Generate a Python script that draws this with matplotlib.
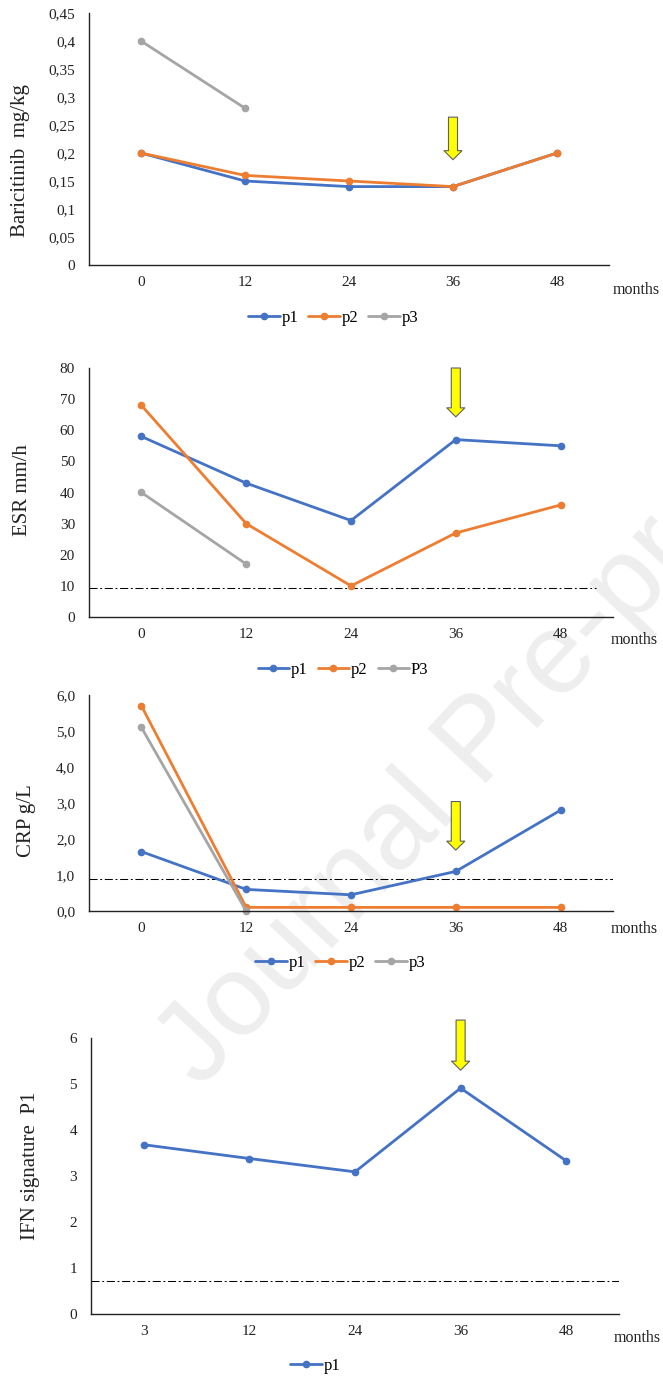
import numpy as np
import matplotlib
matplotlib.use("Agg")
import matplotlib.pyplot as plt
from matplotlib.ticker import FuncFormatter

# ---- data ----
months = ["0", "12", "24", "36", "48"]
months_ifn = ["3", "12", "24", "36", "48"]

bari_p1 = [0.20, 0.15, 0.14, 0.14, 0.20]
bari_p2 = [0.20, 0.16, 0.15, 0.14, 0.20]
bari_p3 = [0.40, 0.28]

esr_p1 = [58, 43, 31, 57, 55]
esr_p2 = [68, 30, 10, 27, 36]
esr_p3 = [40, 17]
esr_ref = 9.3

crp_p1 = [1.65, 0.6, 0.45, 1.1, 2.8]
crp_p2 = [5.7, 0.1, 0.1, 0.1, 0.1]
crp_p3 = [5.1, 0.0]
crp_ref = 0.9

ifn_p1 = [3.68, 3.38, 3.09, 4.91, 3.33]
ifn_ref = 0.71

# arrow (start of treatment change) at 36 months: top / tip values
arrow_bari = (0.264, 0.188)
arrow_esr = (80, 64.3)
arrow_crp = (3.04, 1.69)
arrow_ifn = (6.39, 5.30)

BLUE = "#4472C4"
ORANGE = "#ED7D31"
GRAY = "#A5A5A5"

plt.rcParams["font.family"] = ["Liberation Serif", "DejaVu Serif"]

W, H = 663, 1380
fig = plt.figure(figsize=(W / 100, H / 100), dpi=100)


def px_axes(l, t, r, b):
    return fig.add_axes([l / W, 1 - b / H, (r - l) / W, (b - t) / H])


def style_axes(ax, labels, ylim, yticks, fmt):
    ax.set_facecolor("none")
    ax.set_xlim(-0.5, 4.5)
    ax.set_ylim(*ylim)
    ax.set_xticks(range(len(labels)))
    ax.set_xticklabels(labels)
    ax.set_yticks(yticks)
    ax.yaxis.set_major_formatter(FuncFormatter(fmt))
    for s in ["top", "right"]:
        ax.spines[s].set_visible(False)
    for s in ["left", "bottom"]:
        ax.spines[s].set_linewidth(1.0)
        ax.spines[s].set_color("#222222")
    ax.tick_params(axis="both", length=0, labelsize=11, colors="#222222")
    ax.tick_params(axis="x", pad=8)
    ax.tick_params(axis="y", pad=10)


def series(ax, vals, color, label):
    ax.plot(range(len(vals)), vals, color=color, lw=2.0, marker="o",
            markersize=4.5, label=label, solid_capstyle="round", clip_on=False)


def ref_line(ax, y, xmax=1.0):
    ax.axhline(y, xmin=0, xmax=xmax, color="black", lw=0.75,
               linestyle=(0, (7.7, 2.6, 1.8, 2.6)))


def arrow(ax, top_tip):
    top, tip = top_tip
    ax.annotate("", xy=(3, tip), xytext=(3, top), annotation_clip=False,
                arrowprops=dict(arrowstyle="simple,head_length=6.5,head_width=13,tail_width=6.5",
                                mutation_scale=1, fc="#FFFF00", ec="#606060", lw=0.8,
                                shrinkA=0, shrinkB=0))


def legend(ax, cx, cy):
    ax.legend(loc="center", bbox_to_anchor=(cx / W, 1 - cy / H),
              bbox_transform=fig.transFigure, ncol=3, frameon=False,
              fontsize=12, handlelength=1.9, handletextpad=0.1,
              columnspacing=0.6, borderpad=0)


def ylab(text, x, y):
    fig.text(x / W, 1 - y / H, text, rotation=90, ha="center", va="center",
             fontsize=15, color="#222222")


def months_lab(x, y):
    fig.text(x / W, 1 - y / H, "months", ha="left", va="center",
             fontsize=11.5, color="#222222")


def comma(fmtstr):
    return lambda v, p: format(round(v, 3), fmtstr).replace(".", ",")


# ---- panel 1: baricitinib dose ----
ax1 = px_axes(89, 13, 609, 265)
style_axes(ax1, months, (0, 0.45), np.arange(0, 0.451, 0.05), comma("g"))
series(ax1, bari_p1, BLUE, "p1")
series(ax1, bari_p2, ORANGE, "p2")
series(ax1, bari_p3, GRAY, "p3")
arrow(ax1, arrow_bari)
legend(ax1, 333, 318)
ylab("Baricitinib  mg/kg", 21, 161)
months_lab(613, 290)

# ---- panel 2: ESR ----
ax2 = px_axes(89, 368, 613, 617)
style_axes(ax2, months, (0, 80), range(0, 81, 10), lambda v, p: f"{v:.0f}")
ref_line(ax2, esr_ref, xmax=0.968)
series(ax2, esr_p1, BLUE, "p1")
series(ax2, esr_p2, ORANGE, "p2")
series(ax2, esr_p3, GRAY, "P3")
arrow(ax2, arrow_esr)
legend(ax2, 343, 670)
ylab("ESR mm/h", 23, 490)
months_lab(611, 640)

# ---- panel 3: CRP ----
ax3 = px_axes(89, 695, 613, 911)
style_axes(ax3, months, (0, 6), range(0, 7), comma(".1f"))
ref_line(ax3, crp_ref, xmax=1.0)
series(ax3, crp_p1, BLUE, "p1")
series(ax3, crp_p2, ORANGE, "p2")
series(ax3, crp_p3, GRAY, "p3")
arrow(ax3, arrow_crp)
legend(ax3, 340, 963)
ylab("CRP g/L", 27, 821)
months_lab(611, 929)

# ---- panel 4: IFN signature ----
ax4 = px_axes(91, 1038, 619, 1314)
style_axes(ax4, months_ifn, (0, 6), range(0, 7), lambda v, p: f"{v:.0f}")
ref_line(ax4, ifn_ref, xmax=1.0)
series(ax4, ifn_p1, BLUE, "p1")
arrow(ax4, arrow_ifn)
legend(ax4, 315, 1366)
ylab("IFN signature  P1", 31, 1166)
months_lab(614, 1338)

# watermark
fig.text(200 / W, 1 - 1090 / H, "Journal Pre-proof", rotation=47,
         rotation_mode="anchor", ha="left", va="baseline", fontsize=83,
         family=["Liberation Sans", "DejaVu Sans"], color="#eeeeee", zorder=-5)

fig.savefig("out.png", dpi=100)
